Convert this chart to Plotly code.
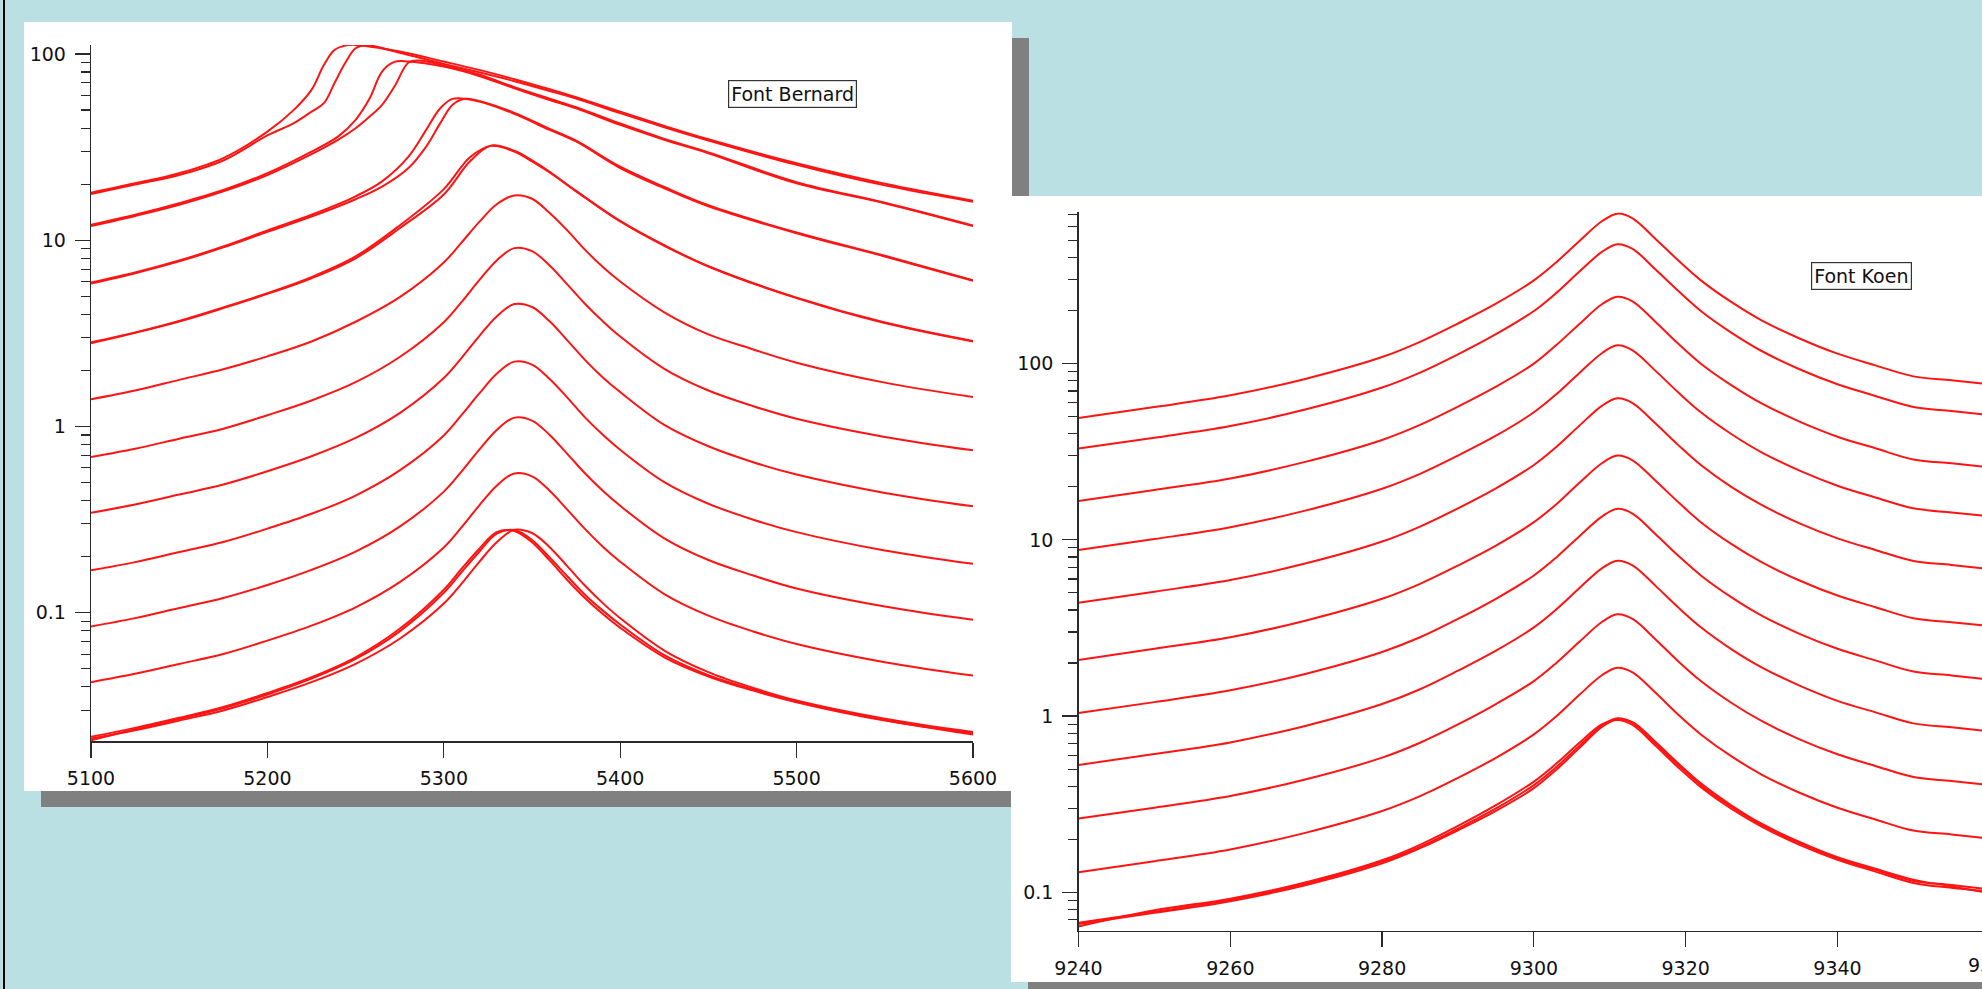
import plotly.graph_objects as go

W, H = 1982, 989
FONT = "DejaVu Sans"
TXT = "#111111"
AXC = "#2a2a2a"
RED = "#ff1414"
BG = "#bae0e3"
SHADOW = "#808080"

# ---------------- left panel : "Font Bernard" ----------------
LEFT_X = [5100, 5125, 5150, 5175, 5200, 5225, 5250, 5275, 5300, 5310, 5320, 5330, 5340,
          5350, 5360, 5370, 5380, 5390, 5400, 5425, 5450, 5475, 5500, 5550, 5600]

G1A_X = [5100, 5125, 5150, 5175, 5200, 5215, 5225, 5232, 5238, 5244, 5250, 5275,
         5300, 5320, 5340, 5360, 5375, 5400, 5425, 5450, 5500, 5550, 5600]
G1A_Y = [18.0, 20.2, 22.9, 27.6, 38.3, 50.1, 64.1, 87.2, 105, 110.8, 111.8, 103,
         91.0, 82.1, 73.2, 64.6, 58.5, 49.0, 41.1, 34.8, 25.9, 20.1, 16.3]
G1B_X = [5100, 5125, 5150, 5175, 5200, 5215, 5225, 5232, 5238, 5244, 5250, 5256, 5275,
         5300, 5320, 5340, 5360, 5375, 5400, 5425, 5450, 5500, 5550, 5600]
G1B_Y = [17.7, 19.9, 22.4, 26.8, 36.5, 42.5, 49.0, 54.4, 69.6, 89.1, 107.3, 111.5, 101.6,
         88.4, 79.7, 71.4, 63.3, 57.6, 48.1, 40.4, 34.3, 25.4, 19.7, 16.1]

G2A_X = [5100, 5125, 5150, 5175, 5200, 5225, 5240, 5250, 5258, 5265, 5272, 5280,
         5300, 5320, 5340, 5360, 5375, 5400, 5425, 5450, 5500, 5550, 5600]
G2A_Y = [12.1, 13.7, 15.8, 18.6, 22.9, 29.9, 36.0, 44.3, 57.8, 80.4, 90.6, 91.0,
         85.5, 76.2, 65.4, 56.6, 51.1, 41.6, 34.6, 29.3, 20.2, 15.8, 11.9]
G2B_X = [5100, 5125, 5150, 5175, 5200, 5225, 5240, 5250, 5258, 5265, 5272, 5280, 5286,
         5300, 5320, 5340, 5360, 5375, 5400, 5425, 5450, 5500, 5550, 5600]
G2B_Y = [11.9, 13.5, 15.5, 18.3, 22.4, 29.0, 34.6, 39.9, 46.1, 53.3, 66.8, 89.9, 92.1,
         86.5, 77.5, 66.3, 57.5, 51.8, 42.3, 35.0, 29.6, 20.5, 15.9, 12.0]

G3A_X = [5100, 5125, 5150, 5175, 5200, 5225, 5250, 5265, 5280, 5290, 5298, 5305,
         5320, 5340, 5360, 5375, 5400, 5425, 5450, 5500, 5550, 5600]
G3A_Y = [5.93, 6.71, 7.78, 9.26, 11.3, 13.7, 17.2, 20.7, 28.1, 39.1, 51.1, 57.4,
         55.5, 47.7, 39.1, 33.9, 24.4, 19.0, 15.2, 10.9, 8.18, 6.06]
G3B_X = [5100, 5125, 5150, 5175, 5200, 5225, 5250, 5265, 5280, 5290, 5298, 5305, 5312,
         5320, 5340, 5360, 5375, 5400, 5425, 5450, 5500, 5550, 5600]
G3B_Y = [5.85, 6.65, 7.70, 9.15, 11.1, 13.4, 16.6, 19.4, 24.4, 31.8, 42.5, 53.3, 57.4,
         56.0, 48.3, 39.6, 34.2, 24.8, 19.3, 15.4, 11.0, 8.25, 6.10]

G4_X = [5100, 5125, 5150, 5175, 5200, 5225, 5250, 5275, 5300, 5315, 5327,
        5340, 5350, 5360, 5375, 5400, 5425, 5450, 5500, 5550, 5600]
G4A_Y = [2.83, 3.20, 3.69, 4.36, 5.20, 6.34, 8.18, 12.0, 18.8, 28.0, 32.1,
         29.9, 26.5, 23.1, 18.3, 12.6, 9.33, 7.23, 4.89, 3.59, 2.86]
G4B_Y = [2.80, 3.18, 3.66, 4.32, 5.15, 6.25, 8.00, 11.6, 17.6, 26.6, 32.3,
         30.2, 26.8, 23.3, 18.4, 12.7, 9.40, 7.25, 4.92, 3.62, 2.88]

G5_Y = [1.40, 1.56, 1.78, 2.03, 2.38, 2.86, 3.65, 4.95, 7.60, 9.70, 12.5, 15.6, 17.4,
        16.7, 14.0, 11.3, 8.90, 7.20, 6.00, 4.10, 3.12, 2.60, 2.20, 1.72, 1.44]
G6_Y = [0.686, 0.760, 0.860, 0.973, 1.15, 1.38, 1.73, 2.36, 3.63, 4.65, 6.08, 7.79, 9.07,
        8.74, 7.32, 5.79, 4.56, 3.68, 3.04, 2.04, 1.56, 1.29, 1.10, 0.879, 0.745]
G7_Y = [0.344, 0.381, 0.431, 0.488, 0.575, 0.692, 0.868, 1.18, 1.82, 2.33, 3.05, 3.90, 4.54,
        4.38, 3.67, 2.90, 2.28, 1.84, 1.53, 1.02, 0.783, 0.645, 0.552, 0.440, 0.373]
G8_Y = [0.169, 0.187, 0.212, 0.240, 0.283, 0.340, 0.426, 0.581, 0.895, 1.15, 1.50, 1.92, 2.23,
        2.15, 1.80, 1.43, 1.12, 0.906, 0.750, 0.503, 0.385, 0.317, 0.271, 0.216, 0.183]
G9_Y = [0.0844, 0.0936, 0.106, 0.120, 0.141, 0.170, 0.213, 0.290, 0.447, 0.573, 0.749, 0.958, 1.116,
        1.076, 0.901, 0.713, 0.561, 0.453, 0.375, 0.251, 0.192, 0.159, 0.135, 0.108, 0.0916]
G10_Y = [0.0424, 0.0470, 0.0531, 0.0601, 0.0709, 0.0853, 0.107, 0.146, 0.224, 0.287, 0.376, 0.481, 0.560,
         0.540, 0.452, 0.358, 0.282, 0.227, 0.188, 0.126, 0.0965, 0.0796, 0.0680, 0.0543, 0.0460]
G11A_Y = [0.0216, 0.0241, 0.0273, 0.0312, 0.0371, 0.0451, 0.0577, 0.0820, 0.133, 0.172, 0.220, 0.271, 0.275,
          0.239, 0.191, 0.150, 0.120, 0.0987, 0.0830, 0.0577, 0.0455, 0.0383, 0.0331, 0.0264, 0.0226]
G11B_Y = [0.0211, 0.0234, 0.0264, 0.0299, 0.0353, 0.0424, 0.0532, 0.0725, 0.112, 0.143, 0.187, 0.239, 0.279,
          0.268, 0.225, 0.178, 0.140, 0.113, 0.0935, 0.0627, 0.0480, 0.0396, 0.0338, 0.0270, 0.0229]
G11C_Y = [0.0207, 0.0237, 0.0269, 0.0307, 0.0364, 0.0443, 0.0565, 0.0795, 0.128, 0.165, 0.212, 0.266, 0.278,
          0.246, 0.198, 0.157, 0.125, 0.103, 0.0865, 0.0592, 0.0462, 0.0388, 0.0333, 0.0266, 0.0222]

# ---------------- right panel : "Font Koen" ----------------
RIGHT_X = [9240, 9250, 9260, 9270, 9280, 9285, 9290, 9295, 9300, 9303, 9306, 9309, 9311,
           9313, 9316, 9319, 9322, 9326, 9330, 9335, 9340, 9345, 9350, 9355, 9360]
R1_Y = [49.2, 56.7, 66.1, 82.2, 109, 133, 169, 219, 297, 378, 497, 645, 710,
        668, 512, 386, 297, 224, 176, 139, 114, 97.8, 84.7, 80.4, 76.3]
R2_Y = [33.0, 38.0, 44.3, 55.1, 73.2, 89.0, 113, 147, 199, 253, 333, 432, 476,
        448, 343, 259, 199, 150, 118, 93.0, 76.4, 65.6, 56.8, 53.9, 51.2]
R3_Y = [16.6, 19.2, 22.3, 27.8, 36.9, 44.9, 57.0, 74.0, 100, 128, 168, 218, 240,
        226, 173, 130, 100, 75.6, 59.5, 46.9, 38.5, 33.1, 28.6, 27.2, 25.8]
R4_Y = [8.76, 10.1, 11.8, 14.7, 19.5, 23.7, 30.1, 39.0, 53.0, 67.3, 88.6, 115, 127,
        119, 91.3, 68.8, 53.0, 39.9, 31.4, 24.7, 20.3, 17.4, 15.1, 14.3, 13.6]
R5_Y = [4.40, 5.08, 5.92, 7.36, 9.78, 11.9, 15.1, 19.6, 26.6, 33.8, 44.5, 57.8, 63.6,
        59.8, 45.9, 34.6, 26.6, 20.0, 15.8, 12.4, 10.2, 8.76, 7.59, 7.21, 6.84]
R6_Y = [2.08, 2.41, 2.80, 3.49, 4.63, 5.63, 7.15, 9.28, 12.6, 16.0, 21.1, 27.3, 30.1,
        28.3, 21.7, 16.4, 12.6, 9.48, 7.47, 5.88, 4.83, 4.15, 3.59, 3.41, 3.24]
R7_Y = [1.04, 1.20, 1.40, 1.74, 2.31, 2.80, 3.56, 4.63, 6.28, 7.98, 10.5, 13.6, 15.0,
        14.1, 10.8, 8.15, 6.28, 4.73, 3.72, 2.93, 2.41, 2.07, 1.79, 1.70, 1.61]
R8_Y = [0.528, 0.609, 0.709, 0.882, 1.17, 1.42, 1.81, 2.35, 3.19, 4.05, 5.33, 6.92, 7.62,
        7.17, 5.50, 4.14, 3.19, 2.40, 1.89, 1.49, 1.22, 1.05, 0.909, 0.863, 0.819]
R9_Y = [0.262, 0.302, 0.352, 0.438, 0.581, 0.706, 0.897, 1.17, 1.58, 2.01, 2.64, 3.43, 3.78,
        3.56, 2.73, 2.05, 1.58, 1.19, 0.938, 0.738, 0.607, 0.521, 0.451, 0.428, 0.406]
R10_Y = [0.130, 0.150, 0.175, 0.218, 0.289, 0.351, 0.446, 0.580, 0.787, 1.00, 1.32, 1.71, 1.88,
         1.77, 1.36, 1.02, 0.787, 0.592, 0.466, 0.367, 0.302, 0.259, 0.224, 0.213, 0.202]
R11A_Y = [0.0672, 0.0776, 0.0904, 0.112, 0.149, 0.181, 0.230, 0.299, 0.406, 0.516, 0.679, 0.882, 0.971,
          0.914, 0.700, 0.528, 0.406, 0.306, 0.241, 0.190, 0.156, 0.134, 0.116, 0.110, 0.104]
R11B_Y = [0.0640, 0.0790, 0.0920, 0.114, 0.152, 0.186, 0.238, 0.312, 0.425, 0.540, 0.705, 0.900, 0.950,
          0.890, 0.680, 0.512, 0.395, 0.298, 0.236, 0.186, 0.153, 0.131, 0.113, 0.106, 0.101]
R11C_Y = [0.0660, 0.0765, 0.0890, 0.110, 0.146, 0.178, 0.225, 0.290, 0.390, 0.498, 0.660, 0.870, 0.960,
          0.925, 0.715, 0.540, 0.415, 0.312, 0.245, 0.193, 0.158, 0.136, 0.118, 0.108, 0.099]

LEFT_X_TICKS = [5100, 5200, 5300, 5400, 5500, 5600]
RIGHT_X_TICKS = [9240, 9260, 9280, 9300, 9320, 9340]

left_series = [
    (G1A_X, G1A_Y), (G1B_X, G1B_Y), (G2A_X, G2A_Y), (G2B_X, G2B_Y),
    (G3A_X, G3A_Y), (G3B_X, G3B_Y), (G4_X, G4A_Y), (G4_X, G4B_Y),
    (LEFT_X, G5_Y), (LEFT_X, G6_Y), (LEFT_X, G7_Y), (LEFT_X, G8_Y),
    (LEFT_X, G9_Y), (LEFT_X, G10_Y), (LEFT_X, G11A_Y), (LEFT_X, G11B_Y),
    (LEFT_X, G11C_Y),
]
right_series = [R1_Y, R2_Y, R3_Y, R4_Y, R5_Y, R6_Y, R7_Y, R8_Y, R9_Y, R10_Y,
                R11A_Y, R11B_Y, R11C_Y]

fig = go.Figure()
line_style = dict(color=RED, width=2.0, shape="spline", smoothing=1.0)
for xs, ys in left_series:
    fig.add_trace(go.Scatter(x=xs, y=ys, mode="lines", line=line_style,
                             xaxis="x", yaxis="y", hoverinfo="skip", showlegend=False))
for ys in right_series:
    fig.add_trace(go.Scatter(x=RIGHT_X, y=ys, mode="lines", line=line_style,
                             xaxis="x2", yaxis="y2", hoverinfo="skip", showlegend=False))


def rect(x0, y0, x1, y1, color):
    return dict(type="rect", xref="paper", yref="paper",
                x0=x0 / W, x1=x1 / W, y0=1 - y1 / H, y1=1 - y0 / H,
                fillcolor=color, line=dict(width=0), layer="below")


shapes = [
    rect(3, -5, 5, H + 5, "#000000"),
    rect(41, 38, 1029, 807, SHADOW),
    rect(24, 22, 1012, 791, "#ffffff"),
    rect(1028, 213, W + 40, H + 40, SHADOW),
    rect(1011, 196, W + 20, 982, "#ffffff"),
]

tickfont = dict(family=FONT, size=19, color=TXT)
common_axis = dict(showline=True, linecolor=AXC, linewidth=1.3, ticks="outside",
                   tickcolor=AXC, tickwidth=1.2, ticklen=15, showgrid=False,
                   zeroline=False, tickfont=tickfont, fixedrange=True, automargin=False)
minor = dict(ticks="outside", ticklen=9, tickwidth=1.1, tickcolor=AXC,
             dtick="D1", showgrid=False)

fig.update_layout(
    width=W, height=H, autosize=False,
    margin=dict(l=0, r=0, t=0, b=0, pad=0, autoexpand=False),
    paper_bgcolor=BG, plot_bgcolor="rgba(0,0,0,0)",
    shapes=shapes,
    xaxis=dict(domain=[91 / W, 973 / W], range=[5100, 5600], anchor="y",
               tickmode="array", tickvals=LEFT_X_TICKS, ticklabelstandoff=5, **common_axis),
    yaxis=dict(domain=[1 - 741.3 / H, 1 - 45 / H], type="log", range=[-1.690, 2.048],
               anchor="x", dtick=1, minor=minor, ticklabelstandoff=5, **common_axis),
    xaxis2=dict(domain=[1078.5 / W, 1.0], range=[9240, 9359.04], anchor="y2",
                tickmode="array", tickvals=RIGHT_X_TICKS, ticklabelstandoff=5, **common_axis),
    yaxis2=dict(domain=[1 - 930.7 / H, 1 - 212.3 / H], type="log", range=[-1.218, 2.859],
                anchor="x2", dtick=1, minor=minor, ticklabelstandoff=5, **common_axis),
    annotations=[
        dict(text="Font Bernard", xref="paper", yref="paper", x=792.5 / W, y=1 - 94.5 / H,
             xanchor="center", yanchor="middle", showarrow=False, font=tickfont,
             bgcolor="#ffffff", bordercolor="#333333", borderwidth=1.2, borderpad=2),
        dict(text="Font Koen", xref="paper", yref="paper", x=1861 / W, y=1 - 276 / H,
             xanchor="center", yanchor="middle", showarrow=False, font=tickfont,
             bgcolor="#ffffff", bordercolor="#333333", borderwidth=1.2, borderpad=2),
        dict(text="9360", xref="paper", yref="paper", x=1992 / W, y=1 - 965 / H,
             xanchor="center", yanchor="middle", showarrow=False, font=tickfont),
    ],
)

fig.write_html(
    "out.html",
    include_plotlyjs=True,
    config={"displayModeBar": False, "staticPlot": True},
    post_script="document.body.style.margin='0px';document.body.style.overflow='hidden';",
)
